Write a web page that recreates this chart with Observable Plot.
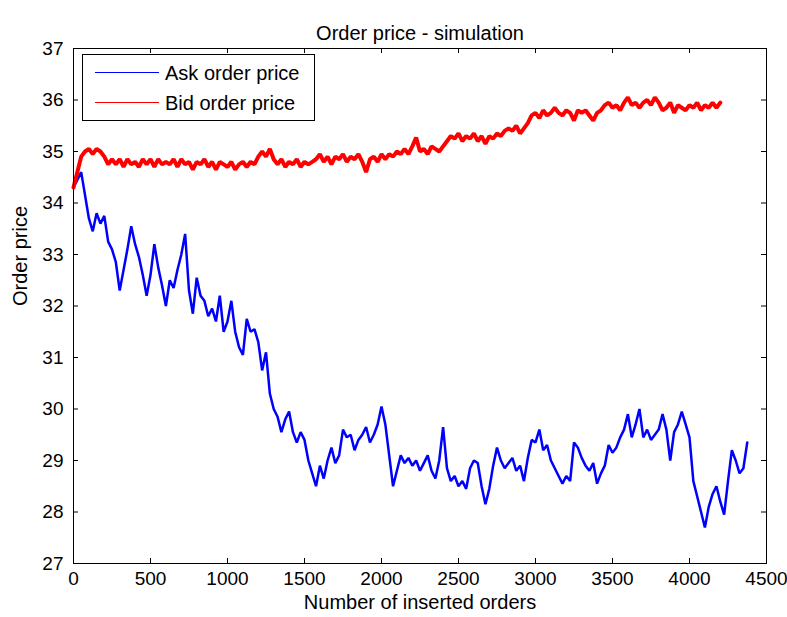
<!DOCTYPE html>
<html>
<head>
<meta charset="utf-8">
<script src="https://cdn.jsdelivr.net/npm/d3@7"></script>
<script src="https://cdn.jsdelivr.net/npm/@observablehq/plot@0.6"></script>
<style>
  body { margin: 0; background: #fff; }
  #chart { position: relative; width: 787px; height: 617px; font-family: "Liberation Sans", Arial, sans-serif; }
  #chart svg { display: block; }
  .legend { position: absolute; left: 82px; top: 54px; width: 233px; height: 67px; box-sizing: border-box;
            border: 1px solid #000; background: #fff; }
  .legend .item { position: absolute; left: 0; height: 24px; width: 100%; }
  .legend .swatch { position: absolute; left: 12px; top: 11px; width: 64px; height: 0; border-top: 1px solid; }
  .legend .name { position: absolute; left: 82px; top: 0; font-size: 20px; line-height: 24px; color: #000; white-space: nowrap; }
</style>
</head>
<body>
<div id="chart"></div>
<script>
// Order prices sampled every 25 inserted orders
const sampleStep = 25;

const askPrice = [
  34.3, 34.45, 34.6, 34.15, 33.7, 33.45, 33.8, 33.6, 33.75, 33.25,
  33.1, 32.85, 32.3, 32.7, 33.1, 33.55, 33.2, 32.95, 32.6, 32.2,
  32.6, 33.2, 32.75, 32.4, 32.0, 32.5, 32.35, 32.7, 33.0, 33.4,
  32.3, 31.85, 32.55, 32.2, 32.1, 31.8, 31.95, 31.7, 32.2, 31.5,
  31.7, 32.1, 31.5, 31.2, 31.05, 31.75, 31.5, 31.55, 31.3, 30.75,
  31.1, 30.3, 30.0, 29.85, 29.55, 29.8, 29.95, 29.55, 29.35, 29.55,
  29.4, 29.0, 28.75, 28.5, 28.9, 28.65, 29.0, 29.25, 28.95, 29.1,
  29.6, 29.45, 29.5, 29.2, 29.4, 29.5, 29.65, 29.35, 29.5, 29.7,
  30.05, 29.7, 29.1, 28.5, 28.8, 29.1, 28.95, 29.05, 28.9, 29.0,
  28.8, 28.95, 29.1, 28.8, 28.65, 29.0, 29.65, 28.85, 28.6, 28.7,
  28.5, 28.6, 28.45, 28.85, 29.0, 28.95, 28.5, 28.15, 28.45, 28.9,
  29.25, 29.0, 28.85, 28.95, 29.05, 28.8, 28.9, 28.6, 29.05, 29.4,
  29.35, 29.6, 29.2, 29.3, 29.0, 28.85, 28.7, 28.55, 28.7, 28.6,
  29.35, 29.25, 29.05, 28.9, 28.8, 28.95, 28.55, 28.75, 28.9, 29.3,
  29.15, 29.25, 29.45, 29.6, 29.9, 29.45, 29.7, 30.0, 29.45, 29.6,
  29.4, 29.5, 29.6, 29.9, 29.6, 29.0, 29.55, 29.7, 29.95, 29.7,
  29.45, 28.6, 28.3, 28.0, 27.7, 28.1, 28.35, 28.5, 28.2, 27.95,
  28.6, 29.2, 29.0, 28.75, 28.85, 29.35
];

const bidPrice = [
  34.3, 34.6, 34.9, 35.0, 35.05, 34.95, 35.05, 35.0, 34.9, 34.75,
  34.85, 34.75, 34.85, 34.7, 34.85, 34.75, 34.8, 34.7, 34.85, 34.75,
  34.85, 34.7, 34.85, 34.75, 34.8, 34.75, 34.85, 34.7, 34.85, 34.75,
  34.8, 34.65, 34.8, 34.75, 34.85, 34.7, 34.8, 34.65, 34.8, 34.75,
  34.7, 34.8, 34.65, 34.75, 34.8, 34.7, 34.8, 34.75, 34.9, 35.0,
  34.9, 35.05, 34.85, 34.75, 34.85, 34.7, 34.8, 34.75, 34.85, 34.7,
  34.8, 34.75, 34.8, 34.85, 34.95, 34.8, 34.9, 34.75, 34.9, 34.85,
  34.95, 34.8, 34.9, 34.85, 34.95, 34.8, 34.6, 34.85, 34.9, 34.8,
  34.95, 34.85, 34.95, 34.9, 35.0, 34.95, 35.05, 34.95, 35.1, 35.27,
  35.0, 35.05, 34.95, 35.1, 35.05, 35.0, 35.1, 35.2, 35.3, 35.25,
  35.35, 35.2, 35.3, 35.25, 35.35, 35.2, 35.3, 35.15, 35.3, 35.25,
  35.35, 35.3, 35.4, 35.45, 35.4, 35.5, 35.35, 35.45, 35.55, 35.7,
  35.75, 35.65, 35.8, 35.7, 35.75, 35.85, 35.75, 35.7, 35.8, 35.75,
  35.6, 35.8, 35.75, 35.8, 35.7, 35.6, 35.75, 35.8, 35.9, 35.95,
  35.85, 35.9, 35.8, 35.95, 36.05, 35.9, 35.95, 35.85, 35.95, 36.0,
  35.9, 36.05, 35.95, 35.8, 35.85, 35.95, 35.75, 35.9, 35.85, 35.8,
  35.9, 35.85, 35.95, 35.8, 35.9, 35.85, 35.95, 35.85, 35.95
];

const xTicks = [0, 500, 1000, 1500, 2000, 2500, 3000, 3500, 4000, 4500];
const yTicks = [27, 28, 29, 30, 31, 32, 33, 34, 35, 36, 37];

const seriesNames = ["Ask order price", "Bid order price"];
const seriesColors = ["#0000ff", "#ff0000"];

const titleText = "Order price - simulation";
const xLabelText = "Number of inserted orders";
const yLabelText = "Order price";

const W = 787, H = 617;
const mTop = 48, mRight = 21, mBottom = 54, mLeft = 73;
const innerW = W - mLeft - mRight;
const innerH = H - mTop - mBottom;
const tickLen = 5;

const askData = askPrice.map((p, i) => ({order: i * sampleStep, price: p}));
const bidData = bidPrice.map((p, i) => ({order: i * sampleStep, price: p}));

const chart = Plot.plot({
  width: W,
  height: H,
  marginTop: mTop,
  marginRight: mRight,
  marginBottom: mBottom,
  marginLeft: mLeft,
  style: {fontFamily: "'Liberation Sans', Arial, sans-serif", fontSize: "19px", color: "#000", background: "#fff", overflow: "visible"},
  x: {domain: [0, 4500]},
  y: {domain: [27, 37]},
  marks: [
    Plot.line(askData, {x: "order", y: "price", stroke: seriesColors[0], strokeWidth: 2.5, strokeLinejoin: "miter"}),
    Plot.line(bidData, {x: "order", y: "price", stroke: seriesColors[1], strokeWidth: 4, strokeLinejoin: "miter"}),
    Plot.frame({stroke: "#000", strokeWidth: 1}),
    // inward ticks on all four sides
    Plot.ruleX(xTicks, {x: d => d, insetTop: innerH - tickLen, stroke: "#000"}),
    Plot.ruleX(xTicks, {x: d => d, insetBottom: innerH - tickLen, stroke: "#000"}),
    Plot.ruleY(yTicks, {y: d => d, insetRight: innerW - tickLen, stroke: "#000"}),
    Plot.ruleY(yTicks, {y: d => d, insetLeft: innerW - tickLen, stroke: "#000"}),
    Plot.axisX(xTicks, {tickSize: 0, tickPadding: 8, label: null, fontSize: 19, tickFormat: d => String(d)}),
    Plot.axisY(yTicks, {tickSize: 0, tickPadding: 10, label: null, fontSize: 19, tickFormat: d => String(d)}),
    Plot.text([titleText], {text: d => d, frameAnchor: "top", dy: -23, fontSize: 20, fill: "#000"}),
    Plot.text([xLabelText], {text: d => d, frameAnchor: "bottom", dy: 45, fontSize: 20, fill: "#000"}),
    Plot.text([yLabelText], {text: d => d, frameAnchor: "left", dx: -53, rotate: -90, fontSize: 20, fill: "#000"})
  ]
});

const root = document.getElementById("chart");
root.appendChild(chart);

// legend box in the upper-left corner of the axes
const legend = document.createElement("div");
legend.className = "legend";
seriesNames.forEach((name, i) => {
  const item = document.createElement("div");
  item.className = "item";
  item.style.top = (6 + i * 30) + "px";
  const sw = document.createElement("div");
  sw.className = "swatch";
  sw.style.borderTopColor = seriesColors[i];
  const label = document.createElement("div");
  label.className = "name";
  label.textContent = name;
  item.appendChild(sw);
  item.appendChild(label);
  legend.appendChild(item);
});
root.appendChild(legend);
</script>
</body>
</html>
